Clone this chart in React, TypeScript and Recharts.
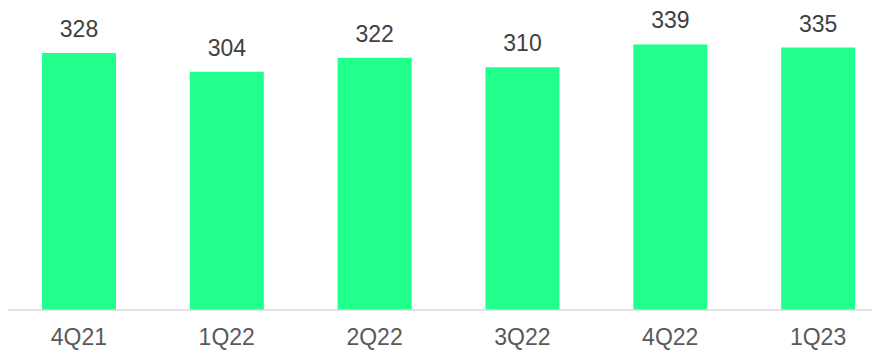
import React from 'react';
import { BarChart, Bar, XAxis, YAxis, LabelList } from 'recharts';

const quarters = ['4Q21', '1Q22', '2Q22', '3Q22', '4Q22', '1Q23'];
const values = [328, 304, 322, 310, 339, 335];

const data = quarters.map((q, i) => ({ q, value: values[i] }));

const font = 'Liberation Sans, Arial, sans-serif';

const App: React.FC = () => (
    <div style={{ margin: '-8px 0 0 -8px', width: 880, height: 352, overflow: 'hidden' }}>
        <BarChart
            width={900}
            height={352}
            data={data}
            margin={{ top: 28, right: 8, bottom: 0, left: 5 }}
        >
            <XAxis
                dataKey="q"
                height={42}
                tickLine={false}
                axisLine={{ stroke: '#d9d9d9', strokeWidth: 1.5 }}
                tickMargin={13}
                tick={{ fill: '#595959', fontSize: 23, fontFamily: font }}
            />
            <YAxis hide domain={[0, 360]} />
            <Bar dataKey="value" fill="#21ff8c" barSize={74} isAnimationActive={false}>
                <LabelList
                    dataKey="value"
                    position="top"
                    offset={16}
                    fill="#404040"
                    fontSize={23}
                    fontFamily={font}
                />
            </Bar>
        </BarChart>
    </div>
);

export default App;
